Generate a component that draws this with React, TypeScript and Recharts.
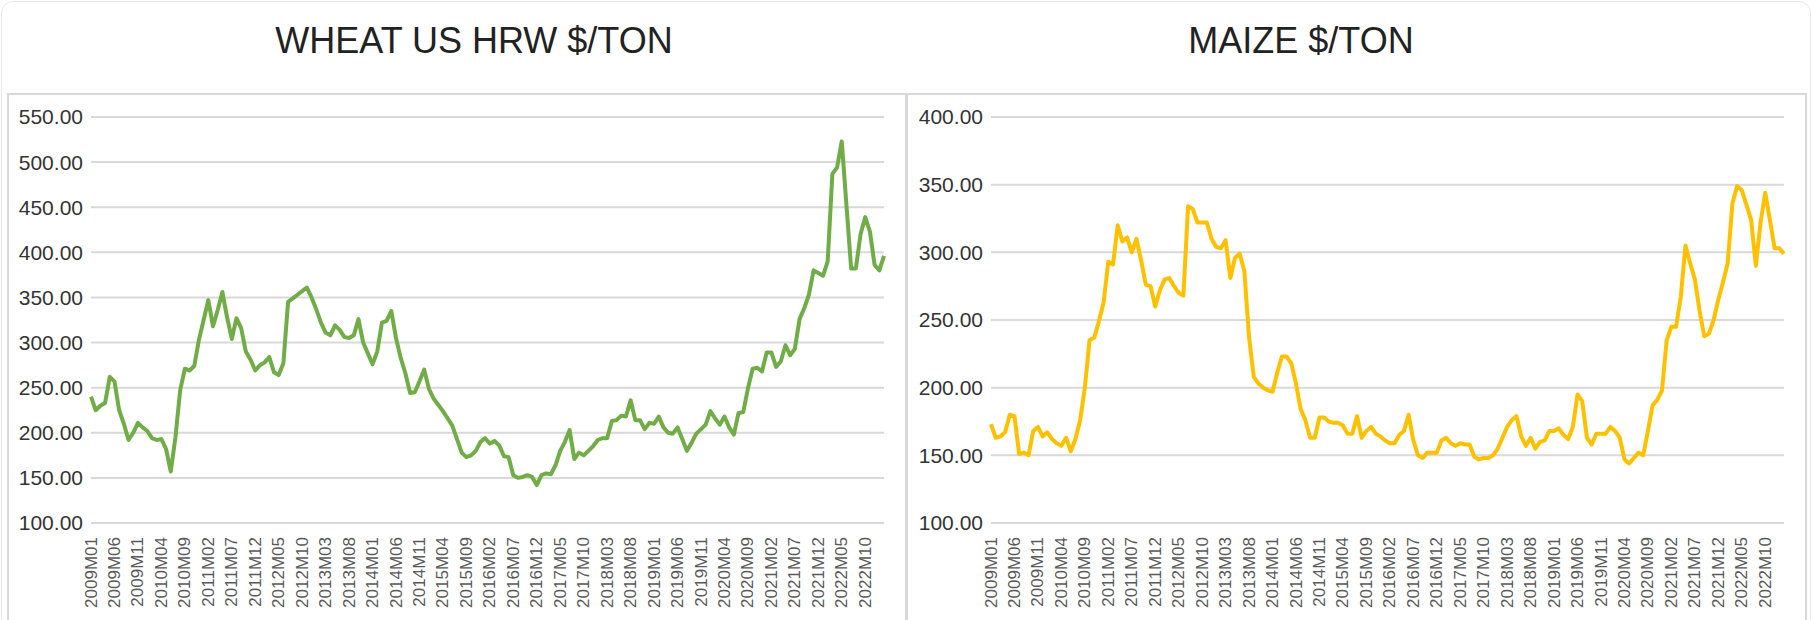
import { LineChart, Line, XAxis, YAxis, CartesianGrid } from "recharts";

// categories: 2009M01 .. 2023M02 (monthly)
const YEARS = [2009, 2010, 2011, 2012, 2013, 2014, 2015, 2016, 2017, 2018, 2019, 2020, 2021, 2022, 2023];
const MONTHS = ["M01", "M02", "M03", "M04", "M05", "M06", "M07", "M08", "M09", "M10", "M11", "M12"];
const POINT_COUNT = 170;

// $/ton
const WHEAT = [
  240, 225, 230, 233, 262, 257, 225, 210, 192, 200, 211, 206, 202, 194, 192, 193, 182, 157, 195, 247,
  271, 269, 274, 303, 325, 347, 318, 336, 356, 328, 304, 327, 316, 290, 281, 269, 275, 278, 284, 267,
  264, 277, 345, 349, 353, 357, 361, 350, 337, 322, 311, 308, 319, 314, 306, 305, 308, 326, 300, 288,
  276, 290, 322, 324, 335, 305, 283, 266, 244, 245, 257, 270, 249, 238, 231, 224, 216, 208, 193, 178,
  173, 175, 180, 190, 194, 188, 191, 186, 174, 173, 153, 150, 151, 153, 151, 142, 153, 155, 154, 164,
  180, 190, 203, 171, 178, 175, 180, 185, 192, 194, 194, 213, 214, 219, 218, 236, 214, 214, 204, 211,
  210, 218, 206, 200, 199, 206, 193, 180, 189, 199, 204, 209, 224, 216, 209, 218, 206, 198, 222, 223,
  249, 271, 272, 268, 289, 289, 273, 279, 297, 286, 293, 326, 338, 353, 380, 377, 374, 390, 487, 494,
  523, 452, 382, 382, 420, 439, 423, 386, 380, 396,
];

const MAIZE = [
  173, 163, 164, 167, 180, 179, 151, 152, 150, 168, 171, 164, 167, 162, 159, 157, 163, 153, 162, 176,
  200, 235, 237, 249, 263, 293, 291, 320, 308, 311, 300, 310, 294, 276, 275, 260, 272, 280, 281, 275,
  270, 268, 334, 332, 322, 322, 322, 310, 304, 303, 309, 281, 296, 299, 286, 237, 208, 203, 200, 198,
  197, 211, 223, 223, 218, 203, 184, 176, 163, 163, 178, 178, 175, 174, 174, 172, 166, 166, 179, 163,
  168, 171, 166, 164, 161, 159, 159, 165, 168, 180, 161, 150, 148, 152, 152, 152, 161, 163, 159, 157,
  159, 158, 158, 149, 147, 148, 148, 150, 155, 163, 171, 176, 179, 164, 157, 163, 155, 160, 161, 168,
  168, 170, 165, 162, 171, 195, 190, 163, 158, 166, 166, 166, 171, 168, 163, 147, 144, 148, 152, 150,
  168, 187, 191, 198, 235, 245, 245, 267, 305, 292, 280, 257, 238, 240, 250, 265, 278, 292, 336, 349,
  346, 335, 324, 290, 322, 344, 324, 303, 303, 299,
];

const WHEAT_TICKS = [100, 150, 200, 250, 300, 350, 400, 450, 500, 550];
const MAIZE_TICKS = [100, 150, 200, 250, 300, 350, 400];

const LABELS: string[] = [];
YEARS.forEach((y) => MONTHS.forEach((m) => LABELS.push(`${y}${m}`)));

const data = LABELS.slice(0, POINT_COUNT).map((month, i) => ({
  month,
  wheat: WHEAT[i],
  maize: MAIZE[i],
}));

const FONT = '"Liberation Sans", Arial, Helvetica, sans-serif';

const MonthTick = (props: any) => {
  const { x, y, payload } = props;
  const ty = y + 6;
  return (
    <text
      x={x}
      y={ty}
      transform={`rotate(-90, ${x}, ${ty})`}
      textAnchor="end"
      dominantBaseline="central"
      fontSize={17}
      fontFamily={FONT}
      fill="#595959"
    >
      {payload.value}
    </text>
  );
};

const PriceChart = ({ dataKey, color, ticks }) => (
  <LineChart
    width={900}
    height={527}
    data={data}
    margin={{ top: 24, right: 23, bottom: 0, left: 6 }}
  >
    <CartesianGrid vertical={false} stroke="#d9d9d9" strokeWidth={2} />
    <XAxis
      dataKey="month"
      interval={4}
      height={97}
      axisLine={false}
      tickLine={false}
      tick={<MonthTick />}
    />
    <YAxis
      width={78}
      domain={[ticks[0], ticks[ticks.length - 1]]}
      ticks={ticks}
      interval={0}
      axisLine={false}
      tickLine={false}
      tickFormatter={(v) => v.toFixed(2)}
      tick={{ fontSize: 21, fill: "#333", fontFamily: FONT }}
    />
    <Line
      type="linear"
      dataKey={dataKey}
      stroke={color}
      strokeWidth={4}
      strokeLinejoin="round"
      dot={false}
      activeDot={false}
      isAnimationActive={false}
    />
  </LineChart>
);

const titleStyle = (center: number) => ({
  position: "absolute" as const,
  left: center - 300,
  top: 23,
  width: 600,
  textAlign: "center" as const,
  fontFamily: FONT,
  fontSize: 36,
  lineHeight: "36px",
  color: "#222",
});

export default function App() {
  return (
    <div
      style={{
        position: "absolute",
        left: 0,
        top: 0,
        width: 1813,
        height: 620,
        overflow: "hidden",
        background: "#fff",
      }}
    >
      {/* outer card */}
      <div
        style={{
          position: "absolute",
          left: 1,
          top: 1,
          width: 1808,
          height: 700,
          border: "1px solid #e8e8e8",
          borderRadius: 12,
        }}
      />

      <div style={titleStyle(474)}>WHEAT US HRW $/TON</div>
      <div style={titleStyle(1301)}>MAIZE $/TON</div>

      {/* panel frames */}
      <div
        style={{
          position: "absolute",
          left: 7,
          top: 93,
          width: 900,
          height: 600,
          boxSizing: "border-box",
          border: "2px solid #d9d9d9",
        }}
      />
      <div
        style={{
          position: "absolute",
          left: 906,
          top: 93,
          width: 901,
          height: 600,
          boxSizing: "border-box",
          border: "2px solid #d9d9d9",
        }}
      />

      <div style={{ position: "absolute", left: 7, top: 93 }}>
        <PriceChart dataKey="wheat" color="#70ad47" ticks={WHEAT_TICKS} />
      </div>
      <div style={{ position: "absolute", left: 907, top: 93 }}>
        <PriceChart dataKey="maize" color="#ffc000" ticks={MAIZE_TICKS} />
      </div>
    </div>
  );
}
